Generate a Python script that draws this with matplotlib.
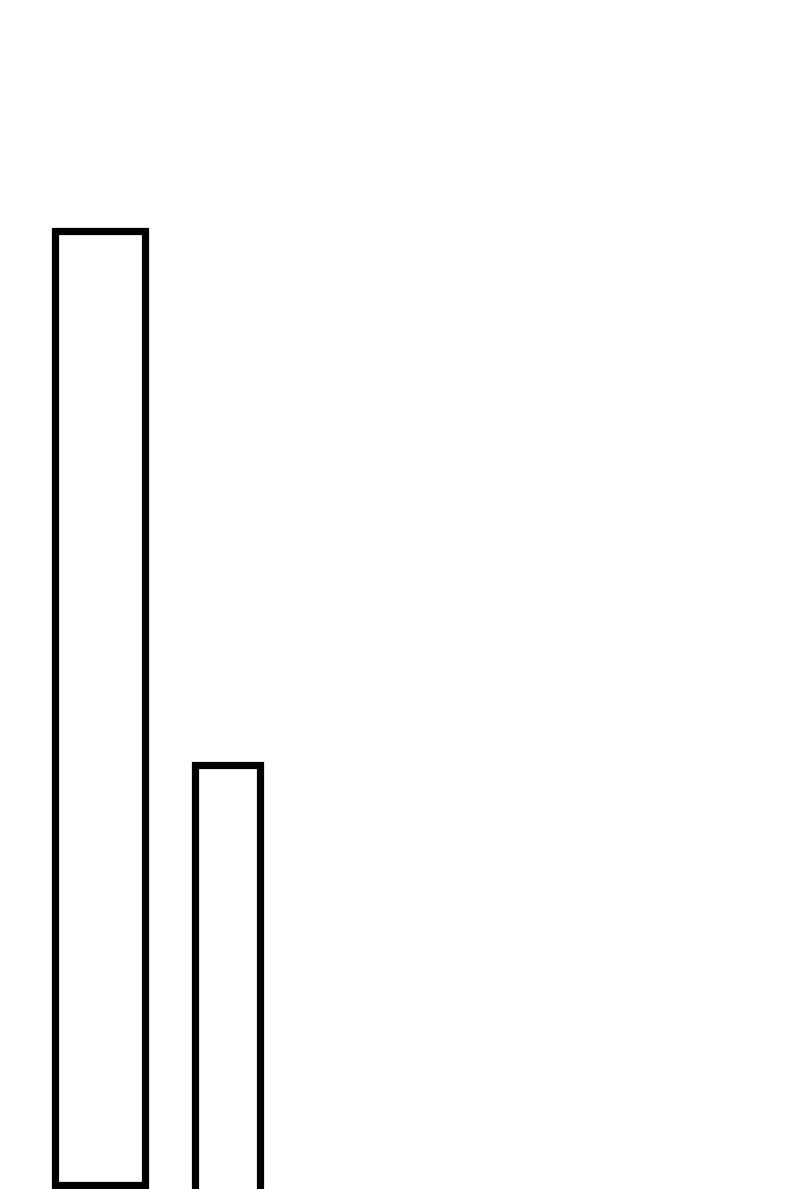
import matplotlib.pyplot as plt

# bar values (top of each bar) and their baselines
labels = ["A", "B"]
tops = [954.5, 420.0]
bottoms = [0.0, -60.0]

x_pos = [99.5, 227.5]
widths = [90, 65]

fig = plt.figure(figsize=(8, 11.89), dpi=100)
ax = fig.add_axes([0, 0, 1, 1])

heights = [t - b for t, b in zip(tops, bottoms)]
bars = ax.bar(x_pos, heights, width=widths, bottom=bottoms,
              facecolor="white", edgecolor="black", linewidth=5.2)
for b in bars:
    b.set_joinstyle("miter")

ax.set_xlim(0, 800)
ax.set_ylim(-4, 1185)
ax.axis("off")

fig.savefig("out.png", dpi=100, facecolor="white")
